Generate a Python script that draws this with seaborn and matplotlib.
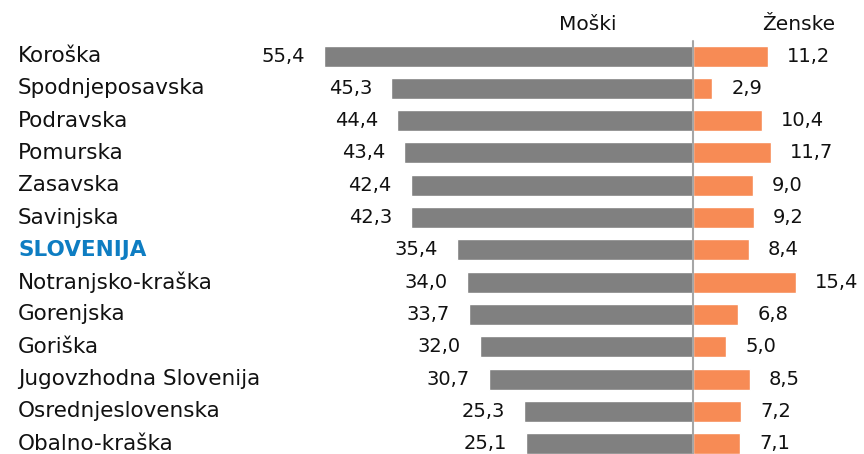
import numpy as np
import pandas as pd
import seaborn as sns
import matplotlib.pyplot as plt

regions = ['Koroška', 'Spodnjeposavska', 'Podravska', 'Pomurska', 'Zasavska', 'Savinjska',
           'SLOVENIJA', 'Notranjsko-kraška', 'Gorenjska', 'Goriška', 'Jugovzhodna Slovenija',
           'Osrednjeslovenska', 'Obalno-kraška']
men = [55.4, 45.3, 44.4, 43.4, 42.4, 42.3, 35.4, 34.0, 33.7, 32.0, 30.7, 25.3, 25.1]
women = [11.2, 2.9, 10.4, 11.7, 9.0, 9.2, 8.4, 15.4, 6.8, 5.0, 8.5, 7.2, 7.1]

df = pd.DataFrame({'regija': regions, 'moski': men, 'zenske': women})
df['moski_neg'] = -df['moski']

sns.set_style('white')
plt.rcParams['font.family'] = ['DejaVu Sans']

fig = plt.figure(figsize=(8.64, 4.54), dpi=100)
ax = fig.add_axes([0, 0, 1, 1])

grey = '#808080'
orange = '#F78B55'
sns.barplot(data=df, x='moski_neg', y='regija', color=grey, saturation=1, width=0.65,
            orient='h', ax=ax)
sns.barplot(data=df, x='zenske', y='regija', color=orange, saturation=1, width=0.65,
            orient='h', ax=ax)

# pixel based limits: centre at x=693, ~6.66 px per unit, rows every ~32.3 px
ax.set_xlim(-104.05, 25.68)
ax.set_ylim(12.32, -1.734)
ax.axis('off')

ax.plot([0, 0], [-0.46, 12.4], color='#a6a6a6', lw=1.5, zorder=5)

off = 19 / 6.66
for i, r in df.iterrows():
    ax.text(-r['moski'] - off, i, f"{r['moski']:.1f}".replace('.', ','), ha='right',
            va='center', fontsize=14, color='#111111')
    ax.text(r['zenske'] + off, i, f"{r['zenske']:.1f}".replace('.', ','), ha='left',
            va='center', fontsize=14, color='#111111')
    if r['regija'] == 'SLOVENIJA':
        ax.text(18 / 864, i, r['regija'], transform=ax.get_yaxis_transform(), ha='left',
                va='center', fontsize=15.5, fontweight='bold', color='#0E7DC2')
    else:
        ax.text(18 / 864, i, r['regija'], transform=ax.get_yaxis_transform(), ha='left',
                va='center', fontsize=15.5, color='#111111')

ax.text(588 / 864, 1 - 25 / 454, 'Moški', transform=ax.transAxes, ha='center',
        va='center', fontsize=14.5, color='#111111')
ax.text(799 / 864, 1 - 25 / 454, 'Ženske', transform=ax.transAxes, ha='center',
        va='center', fontsize=14.5, color='#111111')

fig.savefig('out.png', dpi=100)
